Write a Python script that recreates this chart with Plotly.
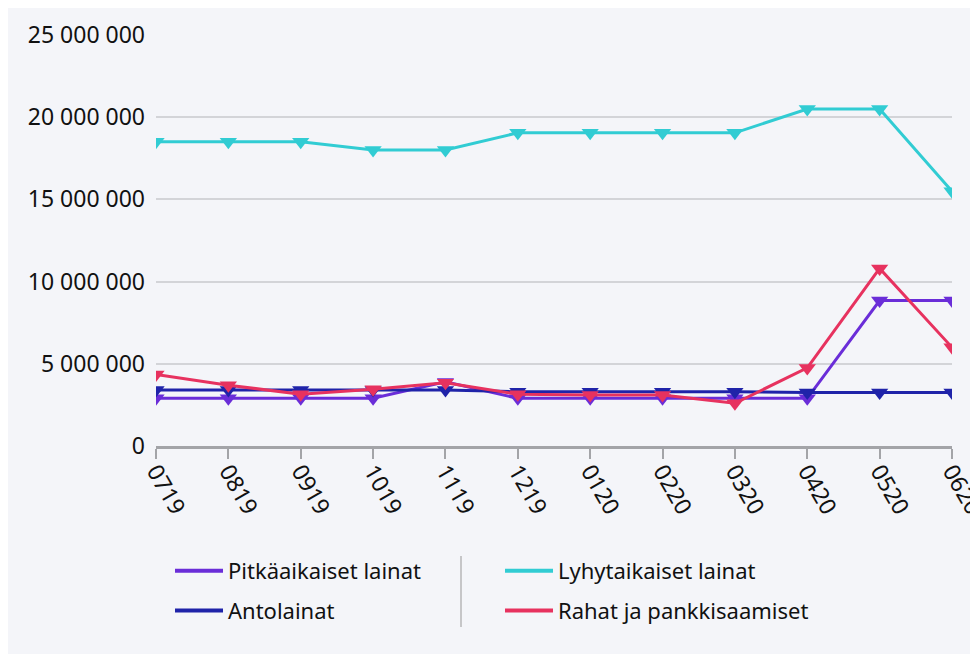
import plotly.graph_objects as go

months = ["0719", "0819", "0919", "1019", "1119", "1219", "0120", "0220", "0320", "0420", "0520", "0620"]
pitkaaikaiset = [2900000, 2900000, 2900000, 2900000, 3900000, 2900000, 2900000, 2900000, 2900000, 2900000, 8850000, 8850000]
lyhytaikaiset = [18500000, 18500000, 18500000, 18000000, 18000000, 19050000, 19050000, 19050000, 19050000, 20500000, 20500000, 15500000]
antolainat = [3400000, 3400000, 3400000, 3400000, 3400000, 3300000, 3300000, 3300000, 3300000, 3250000, 3250000, 3250000]
rahat = [4350000, 3700000, 3150000, 3450000, 3850000, 3150000, 3100000, 3100000, 2600000, 4750000, 10800000, 6000000]

names = ["Pitkäaikaiset lainat", "Lyhytaikaiset lainat", "Antolainat", "Rahat ja pankkisaamiset"]
colors = ["#6a2dd8", "#31ccd3", "#1f23a9", "#e7325f"]
series = [pitkaaikaiset, lyhytaikaiset, antolainat, rahat]
legends = ["legend", "legend2", "legend", "legend2"]
ytick_vals = [0, 5000000, 10000000, 15000000, 20000000, 25000000]
ytick_text = ["0", "5 000 000", "10 000 000", "15 000 000", "20 000 000", "25 000 000"]

FONT = "Noto Sans, Open Sans, sans-serif"
FS_TICK = 23
FS_LEG = 22

fig = go.Figure()
for i, (nm, col, vals) in enumerate(zip(names, colors, series)):
    fig.add_trace(go.Scatter(
        x=months, y=vals, name=nm, mode="lines+markers",
        line=dict(color=col, width=3),
        marker=dict(symbol="triangle-down", size=15, color=col),
        showlegend=False, cliponaxis=True,
    ))
# legend-only entries (line symbols without markers)
for i, (nm, col, lg) in enumerate(zip(names, colors, legends)):
    fig.add_trace(go.Scatter(
        x=[None], y=[None], name=nm, mode="lines",
        line=dict(color=col, width=4),
        legend=lg, legendgroup=str(i), showlegend=True,
    ))

W, H = 970, 646
L, R, T, B = 148, 26, 27, 208
pw = W - L - R
ph = H - T - B

def px_x(p):
    return (p - L) / pw

def px_y(p):
    return (H - B - p) / ph

fig.update_layout(
    width=W, height=H,
    margin=dict(l=L, r=R, t=T, b=B, pad=0, autoexpand=False),
    paper_bgcolor="#f4f5f9",
    plot_bgcolor="rgba(0,0,0,0)",
    font=dict(family=FONT, size=FS_TICK, color="#111111"),
    showlegend=True,
    xaxis=dict(
        type="category", range=[0, len(months) - 1], automargin=False,
        showgrid=False, showline=True, linecolor="#a3a4a8", linewidth=3,
        ticks="outside", ticklen=10, tickwidth=2, tickcolor="#a3a4a8",
        tickangle=60, tickfont=dict(size=FS_TICK, family=FONT),
        ticklabelstandoff=-10, zeroline=False,
    ),
    yaxis=dict(
        range=[0, 25000000], tickvals=ytick_vals, ticktext=ytick_text, automargin=False,
        showgrid=True, gridcolor="#d3d4d8", gridwidth=1.5,
        zeroline=False, showline=False, ticks="", ticklabelstandoff=10,
        tickfont=dict(size=FS_TICK, family=FONT),
    ),
    legend=dict(
        x=px_x(162), y=px_y(542), xanchor="left", yanchor="top",
        orientation="v", bgcolor="rgba(0,0,0,0)", tracegroupgap=8,
        font=dict(size=FS_LEG, family=FONT), itemwidth=48,
    ),
    legend2=dict(
        x=px_x(492), y=px_y(542), xanchor="left", yanchor="top",
        orientation="v", bgcolor="rgba(0,0,0,0)", tracegroupgap=8,
        font=dict(size=FS_LEG, family=FONT), itemwidth=48,
    ),
    shapes=[
        dict(type="line", xref="paper", yref="paper",
             x0=px_x(453), x1=px_x(453), y0=px_y(548), y1=px_y(619),
             line=dict(color="#c6c6c8", width=2)),
    ],
)

fig.write_html(
    "out.html",
    post_script="document.documentElement.style.overflow='hidden';document.body.style.overflow='hidden';",
)
